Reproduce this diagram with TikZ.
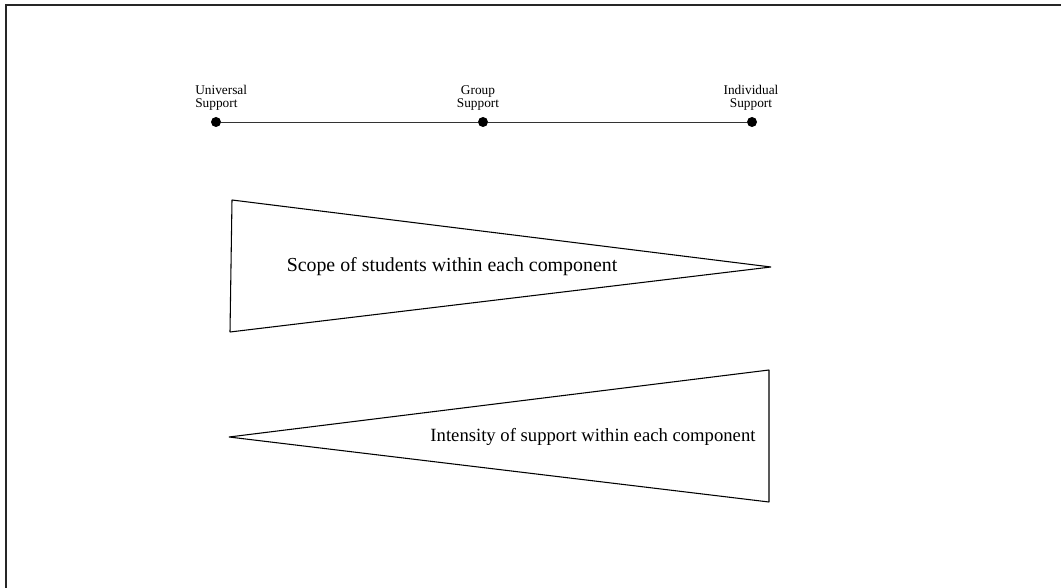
\documentclass[tikz,border=0pt]{standalone}
\usepackage{fontspec}
\setmainfont{Liberation Serif}
\begin{document}
\begin{tikzpicture}[x=0.75pt,y=-0.75pt,
  dot/.style={circle,fill=black,inner sep=0pt,minimum size=7.5pt},
  smalllabel/.style={font=\fontsize{10}{10}\selectfont,inner sep=0pt,align=center},
  biglabel/.style={font=\fontsize{14.9}{17}\selectfont,inner sep=0pt},
  wedge/.style={draw=black,line width=0.8pt,line join=bevel},
  frame/.style={draw=black!85,line width=1.3pt}]
\useasboundingbox (0,0) rectangle (1061,588);
% frame
\draw[frame] (1061,5) -- (6,5) -- (6,588);
% scale line
\node[dot] (u) at (216,122) {};
\node[dot] (g) at (483,122) {};
\node[dot] (i) at (752,122) {};
\draw[line width=0.6pt,black!80] (u) -- (g) -- (i);
\node[smalllabel,align=left,anchor=south west] (ul) at (195,111) {Universal\\Support};
\node[smalllabel,anchor=south] (gl) at (478,111) {Group\\Support};
\node[smalllabel,anchor=south] (il) at (751,111) {Individual\\Support};
% wedges
\draw[wedge] (232,200) -- (771,267) -- (230,332) -- cycle;
\node[biglabel] (scope) at (452,267) {Scope of students within each component};
\draw[wedge] (229,437) -- (769,370) -- (769,502) -- cycle;
\node[biglabel,font=\fontsize{14}{17}\selectfont] (intens) at (593,437) {Intensity of support within each component};
\end{tikzpicture}
\end{document}
